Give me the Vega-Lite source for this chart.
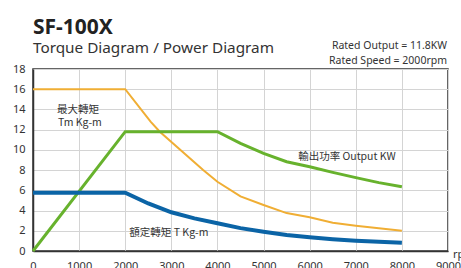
{
  "$schema": "https://vega.github.io/schema/vega-lite/v6.json",
  "width": 415,
  "height": 182,
  "autosize": {"type": "none"},
  "padding": {"left": 33, "top": 69, "right": 13, "bottom": 17},
  "background": "white",
  "config": {
    "font": "Noto Sans",
    "view": {"stroke": "#333333", "strokeWidth": 1.5},
    "axis": {"labelFont": "Noto Sans", "labelFontSize": 11, "labelColor": "#333333", "gridColor": "#d4d4d4", "gridWidth": 1, "domainColor": "#333333", "domainWidth": 1.5, "ticks": false, "title": null, "labelOverlap": false, "labelFlush": false}
  },
  "title": {
    "text": "SF-100X",
    "subtitle": "Torque Diagram / Power Diagram",
    "anchor": "start",
    "frame": "group",
    "font": "Noto Sans",
    "fontSize": 21,
    "fontWeight": "bold",
    "color": "#222222",
    "subtitleFont": "Noto Sans",
    "subtitleFontSize": 15.3,
    "subtitleColor": "#333333",
    "subtitlePadding": 3,
    "offset": -15
  },
  "datasets": {
    "curves": [
      {"s": "max", "rpm": 0, "v": 16},
      {"s": "max", "rpm": 2000, "v": 16},
      {"s": "max", "rpm": 2550, "v": 12.8},
      {"s": "max", "rpm": 2750, "v": 11.8},
      {"s": "max", "rpm": 3690, "v": 8.0},
      {"s": "max", "rpm": 4000, "v": 6.85},
      {"s": "max", "rpm": 4500, "v": 5.4},
      {"s": "max", "rpm": 5000, "v": 4.55},
      {"s": "max", "rpm": 5500, "v": 3.75},
      {"s": "max", "rpm": 6000, "v": 3.33},
      {"s": "max", "rpm": 6500, "v": 2.8},
      {"s": "max", "rpm": 7000, "v": 2.5},
      {"s": "max", "rpm": 7500, "v": 2.24},
      {"s": "max", "rpm": 8000, "v": 2.0},
      {"s": "power", "rpm": 0, "v": 0},
      {"s": "power", "rpm": 2000, "v": 11.8},
      {"s": "power", "rpm": 4000, "v": 11.8},
      {"s": "power", "rpm": 4500, "v": 10.65},
      {"s": "power", "rpm": 5000, "v": 9.66},
      {"s": "power", "rpm": 5500, "v": 8.83},
      {"s": "power", "rpm": 6000, "v": 8.34},
      {"s": "power", "rpm": 6500, "v": 7.78},
      {"s": "power", "rpm": 7000, "v": 7.26},
      {"s": "power", "rpm": 7500, "v": 6.76},
      {"s": "power", "rpm": 8000, "v": 6.36},
      {"s": "rated", "rpm": 0, "v": 5.77},
      {"s": "rated", "rpm": 2000, "v": 5.77},
      {"s": "rated", "rpm": 2500, "v": 4.7},
      {"s": "rated", "rpm": 3000, "v": 3.83},
      {"s": "rated", "rpm": 3500, "v": 3.23},
      {"s": "rated", "rpm": 4000, "v": 2.74},
      {"s": "rated", "rpm": 4500, "v": 2.26},
      {"s": "rated", "rpm": 5000, "v": 1.91},
      {"s": "rated", "rpm": 5500, "v": 1.58},
      {"s": "rated", "rpm": 6000, "v": 1.35},
      {"s": "rated", "rpm": 6500, "v": 1.16},
      {"s": "rated", "rpm": 7000, "v": 1.02},
      {"s": "rated", "rpm": 7500, "v": 0.92},
      {"s": "rated", "rpm": 8000, "v": 0.82}
    ],
    "labels": [
      {"rpm": 520, "v": 13.95, "t": "最大轉矩"},
      {"rpm": 540, "v": 12.7, "t": "Tm Kg-m"},
      {"rpm": 5750, "v": 9.27, "t": "輸出功率 Output KW"},
      {"rpm": 2090, "v": 1.8, "t": "額定轉矩 T Kg-m"}
    ]
  },
  "encoding": {
    "x": {"field": "rpm", "type": "quantitative", "scale": {"domain": [0, 9000], "nice": false}, "axis": {"values": [0,1000,2000,3000,4000,5000,6000,7000,8000,9000], "format": "d", "labelPadding": 9, "labelOverlap": false}},
    "y": {"field": "v", "type": "quantitative", "scale": {"domain": [0, 18], "nice": false}, "axis": {"values": [0,2,4,6,8,10,12,14,16,18], "labelPadding": 8, "labelOverlap": false, "labelBound": false}}
  },
  "layer": [
    {
      "data": {"name": "curves"},
      "mark": {"type": "line", "clip": false},
      "encoding": {
        "detail": {"field": "s"},
        "order": {"field": "rpm"},
        "color": {"field": "s", "type": "nominal", "scale": {"domain": ["max", "power", "rated"], "range": ["#f0ae34", "#67b22d", "#0b64a6"]}, "legend": null},
        "strokeWidth": {"field": "s", "type": "nominal", "scale": {"domain": ["max", "power", "rated"], "range": [2, 4, 4]}, "legend": null}
      }
    },
    {
      "data": {"name": "labels"},
      "mark": {"type": "text", "align": "left", "baseline": "middle", "fontSize": 10.5, "color": "#333333", "font": "Noto Sans CJK TC"},
      "encoding": {
        "text": {"field": "t"}
      }
    },
    {
      "data": {"values": [{"rpm": 9000, "v": 18, "t": ["Rated Output = 11.8KW", "Rated Speed = 2000rpm"]}]},
      "mark": {"type": "text", "align": "right", "baseline": "alphabetic", "fontSize": 10.5, "lineHeight": 15, "dx": -1, "dy": -20, "color": "#333333", "clip": false},
      "encoding": {
        "text": {"field": "t"}
      }
    },
    {
      "data": {"values": [{"rpm": 9000, "v": 0, "t": "rpm"}]},
      "mark": {"type": "text", "align": "left", "baseline": "middle", "fontSize": 11, "dx": 5, "dy": 4, "color": "#333333", "clip": false},
      "encoding": {
        "text": {"field": "t"}
      }
    }
  ]
}
